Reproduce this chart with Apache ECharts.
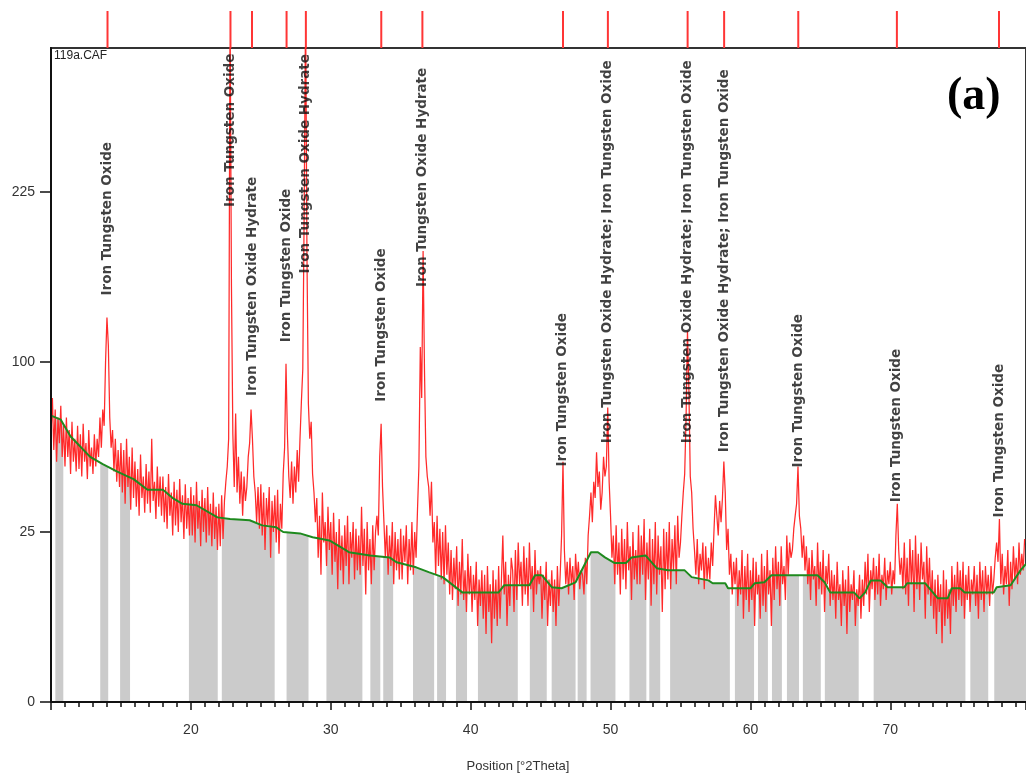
<!DOCTYPE html>
<html><head><meta charset="utf-8">
<script src="https://cdn.jsdelivr.net/npm/echarts@6/dist/echarts.min.js"></script>
<style>html,body{margin:0;padding:0;background:#fff}#c{width:1026px;height:780px}</style>
</head><body><div id="c"></div>
<script>
// ---- data (counts) ----
const scanStart = 10.0, scanStep = 0.1;
const scanCounts = [
62,80,55,74,50,70,58,76,52,66,
48,70,52,64,45,68,50,60,46,66,
47,62,44,67,50,58,43,64,48,56,
45,62,48,60,52,70,56,74,66,100,
128,110,70,56,64,46,60,42,55,40,
58,38,55,34,60,40,52,32,56,36,
50,33,47,30,53,36,44,31,49,34,
46,31,60,35,42,29,48,33,44,30,
44,28,40,26,45,30,38,24,42,27,
39,25,43,28,37,23,41,26,36,24,
40,24,37,22,42,26,35,21,39,25,
36,22,40,24,34,21,38,23,33,20,
34,21,37,23,35,42,48,60,420,150,
62,40,72,38,52,34,46,30,44,35,
40,52,58,74,60,44,38,28,40,26,
41,24,38,20,36,27,40,18,35,25,
37,22,39,19,34,26,45,56,99,62,
44,36,50,34,48,38,55,42,60,78,
96,210,420,170,77,60,68,45,38,28,
36,18,30,14,38,22,28,16,33,20,
28,14,31,17,25,11,29,15,24,12,
27,16,30,12,25,18,28,13,26,15,
24,14,33,16,26,10,28,15,23,12,
27,15,25,30,24,52,67,40,28,18,
27,14,24,16,28,12,25,15,23,13,
26,13,24,17,27,12,23,15,28,14,
25,18,32,48,109,80,176,95,52,44,
40,30,42,22,28,14,30,16,26,13,
25,12,27,14,22,10,20,9,18,11,
21,8,17,10,23,9,15,7,19,10,
16,7,14,9,17,5,13,8,15,6,
14,4,16,7,12,3,15,6,13,5,
16,6,13,24,10,17,5,14,8,18,
15,7,20,9,22,12,17,8,21,10,
18,8,22,11,16,7,20,10,15,12,
16,6,14,9,17,5,13,8,15,7,
13,5,16,8,14,24,50,20,12,17,
10,18,12,16,9,19,13,17,11,15,
14,10,18,12,24,30,38,28,42,36,
54,40,46,32,38,52,44,48,75,42,
30,18,24,12,27,14,22,10,26,13,
23,11,28,15,21,9,25,13,20,12,
27,12,24,14,29,9,22,13,26,8,
23,12,28,10,24,14,21,7,26,11,
25,13,28,11,23,15,27,12,30,18,
22,30,38,45,70,119,85,44,38,26,
20,14,23,12,19,15,22,11,21,13,
18,13,22,16,26,37,30,24,35,28,
36,50,38,20,26,14,19,10,17,12,
18,8,15,10,20,6,16,9,19,7,
15,9,18,5,17,10,14,6,19,8,
16,7,20,10,15,5,18,9,21,11,
17,8,21,12,16,9,24,14,22,18,
20,26,30,34,48,30,26,18,24,15,
21,12,18,9,20,13,16,8,22,11,
17,10,20,7,16,12,19,8,15,9,
14,6,17,9,12,5,15,8,13,4,
16,7,12,9,15,5,11,8,14,6,
13,8,17,10,19,7,15,11,18,9,
16,10,19,8,14,11,18,9,15,12,
17,10,15,12,24,34,20,14,18,11,
22,10,18,8,23,12,20,7,24,11,
19,9,22,13,17,6,21,10,18,8,
15,6,13,4,14,7,12,3,15,5,
13,6,11,4,16,8,14,7,17,9,
15,8,17,6,14,9,16,7,13,10,
16,8,14,6,17,9,15,7,16,10,
14,8,16,10,13,18,22,17,29,12,
19,10,16,12,20,8,17,11,21,13,
18,12,22,14,19,15,23
];
const bgAngles = [10.0,10.7,11.4,12.8,13.7,14.7,15.9,16.9,18.0,18.7,19.4,20.4,21.9,22.8,24.2,25.1,26.1,26.6,27.8,28.7,
  29.9,31.1,31.3,32.8,34.2,34.7,36.1,37.0,38.0,39.4,42.0,42.4,44.2,44.6,45.1,45.8,46.5,47.5,48.6,49.1,
  49.6,50.3,51.1,51.5,52.5,53.3,54.1,55.3,55.8,57.0,57.3,58.2,58.4,60.0,60.3,61.0,61.5,63.6,64.8,65.3,
  65.7,67.4,67.8,68.2,68.6,69.3,69.8,71.0,71.2,72.5,73.1,73.4,74.1,74.4,75.0,75.3,77.4,77.6,78.6,79.3,79.7];
const bgCounts = [71,69,61,52,49,46,43,39,39,36,34,33.5,29.5,29,28.6,27,26.4,25,24.6,23.5,
  22.6,19.9,19.4,18.6,18.1,16.9,15.7,14.6,13.5,10.4,10.4,11.8,11.8,13.9,13.9,11.4,11.2,12.4,19.4,19.4,
  18.1,16.7,16.7,18.1,18.6,15.5,15.0,15.0,13.5,12.8,12.2,12.2,11.2,11.2,12.2,12.4,13.9,13.9,13.9,12.4,
  10.4,10.4,9.3,10.4,12.8,12.8,11.4,11.4,12.2,12.2,10.2,9.3,9.3,11.2,11.2,10.4,10.4,11.4,11.8,15.0,16.5];
const greyGaps = [[10.06,10.31],[10.88,13.52],[14.09,14.94],[15.65,19.86],[21.92,22.21],[25.99,26.84],[28.41,29.69],
  [32.26,32.83],[33.54,33.75],[34.46,35.88],[37.39,37.60],[38.24,38.95],[39.74,40.52],[43.37,44.23],[45.44,45.79],
  [47.50,47.65],[48.29,48.57],[50.35,51.35],[52.56,52.77],[53.55,54.26],[58.53,58.89],[60.26,60.54],[61.25,61.54],
  [62.25,62.61],[63.47,63.75],[65.03,65.32],[67.74,68.81],[75.37,75.72],[77.00,77.43]];
const refLines = [14.04,22.83,24.37,26.84,28.22,33.61,36.55,46.6,49.81,55.51,58.12,63.42,70.47,77.77];
const peakNames = [
  'Iron Tungsten Oxide','Iron Tungsten Oxide','Iron Tungsten Oxide Hydrate','Iron Tungsten Oxide',
  'Iron Tungsten Oxide Hydrate','Iron Tungsten Oxide','Iron Tungsten Oxide Hydrate','Iron Tungsten Oxide',
  'Iron Tungsten Oxide Hydrate; Iron Tungsten Oxide','Iron Tungsten Oxide Hydrate; Iron Tungsten Oxide',
  'Iron Tungsten Oxide Hydrate; Iron Tungsten Oxide','Iron Tungsten Oxide','Iron Tungsten Oxide','Iron Tungsten Oxide'];
const labelCounts = [143,212,81,112,159,78,149,48,58,58,54,47.6,34.5,29.5];
const yTickCounts = [0,25,100,225];

// ---- chart ----
const X_MIN = 10, X_MAX = 79.7, Y_MAX = 19.24;
const sq = v => Math.sqrt(v);
const scanData = scanCounts.map((c, i) => [+(scanStart + i * scanStep).toFixed(1), sq(c)]);
const bgData = bgAngles.map((a, i) => [a, sq(bgCounts[i])]);
const gapData = greyGaps.map(g => [g[0], g[1], sq(110)]);
const labelData = refLines.map((a, i) => ({ value: [a, sq(labelCounts[i])], name: peakNames[i] }));

const chart = echarts.init(document.getElementById('c'), null, { renderer: 'canvas' });
chart.setOption({
  animation: false,
  backgroundColor: '#fff',
  grid: [
    { left: 51, right: -3, top: 48, bottom: 78, show: true, borderColor: '#333', borderWidth: 2, backgroundColor: 'transparent' },
    { left: 51, right: -3, top: 11, height: 37 }
  ],
  xAxis: [
    { type: 'value', gridIndex: 0, min: X_MIN, max: X_MAX, interval: 10, z: 10,
      axisLine: { show: true, onZero: false, lineStyle: { color: '#111', width: 2 } },
      axisTick: { show: true, length: 8, lineStyle: { color: '#111', width: 1.5 } },
      minorTick: { show: true, splitNumber: 10, length: 5, lineStyle: { color: '#111', width: 1.5 } },
      splitLine: { show: false },
      axisLabel: { showMinLabel: false, showMaxLabel: false, margin: 21, fontSize: 14, color: '#333', fontFamily: 'Liberation Sans' } },
    { type: 'value', gridIndex: 1, min: X_MIN, max: X_MAX, show: false }
  ],
  yAxis: [
    { type: 'value', gridIndex: 0, min: 0, max: Y_MAX, z: 10,
      axisLine: { show: true, lineStyle: { color: '#111', width: 2 } },
      axisTick: { show: true, length: 11, customValues: yTickCounts.map(sq), lineStyle: { color: '#111', width: 1.5 } },
      splitLine: { show: false },
      axisLabel: { customValues: yTickCounts.map(sq), formatter: v => String(Math.round(v * v)), margin: 16, fontSize: 14, color: '#333', fontFamily: 'Liberation Sans' } },
    { type: 'value', gridIndex: 1, min: 0, max: 1, show: false }
  ],
  series: [
    { type: 'line', name: 'fill', data: bgData, symbol: 'none', silent: true, z: 1,
      lineStyle: { width: 0 }, areaStyle: { color: '#cbcbcb', opacity: 1 } },
    { type: 'custom', name: 'gaps', data: gapData, silent: true, z: 2, clip: true,
      dimensions: ['start', 'end', 'top'], encode: { x: [0, 1], y: 2 },
      renderItem: (params, api) => {
        const p0 = api.coord([api.value(0), 0]);
        const p1 = api.coord([api.value(1), api.value(2)]);
        return { type: 'rect', shape: { x: p0[0], y: p1[1], width: p1[0] - p0[0], height: p0[1] - p1[1] - 1 }, style: { fill: '#ffffff' } };
      } },
    { type: 'line', name: 'scan', data: scanData, symbol: 'none', silent: true, z: 3,
      lineStyle: { color: '#ff2a2a', width: 1.25 } },
    { type: 'line', name: 'background', data: bgData, symbol: 'none', silent: true, z: 4,
      lineStyle: { color: '#1e8a1e', width: 2 } },
    { type: 'bar', name: 'ref', xAxisIndex: 1, yAxisIndex: 1, data: refLines.map(a => [a, 1]), barWidth: 2,
      itemStyle: { color: '#ff3535' }, silent: true },
    { type: 'scatter', name: 'labels', data: labelData, symbolSize: 1, itemStyle: { color: 'rgba(0,0,0,0)' }, silent: true, z: 5,
      label: { show: true, formatter: '{b}', position: 'inside', rotate: 90, align: 'left', verticalAlign: 'middle',
        fontSize: 13.5, fontWeight: 'bold', fontFamily: 'DejaVu Sans', color: '#111' },
      labelLayout: { hideOverlap: false } }
  ],
  graphic: [
    { type: 'text', left: 54, top: 50, style: { text: '119a.CAF', font: '12px "Liberation Sans"', fill: '#222' } },
    { type: 'text', left: 947, top: 74, style: { text: '(a)', font: 'bold 46px "Liberation Serif"', fill: '#000' } },
    { type: 'text', x: 518, y: 766, style: { text: 'Position [°2Theta]', font: '13px "Liberation Sans"', fill: '#333', textAlign: 'center', textVerticalAlign: 'middle' } }
  ]
});
</script>
</body></html>
